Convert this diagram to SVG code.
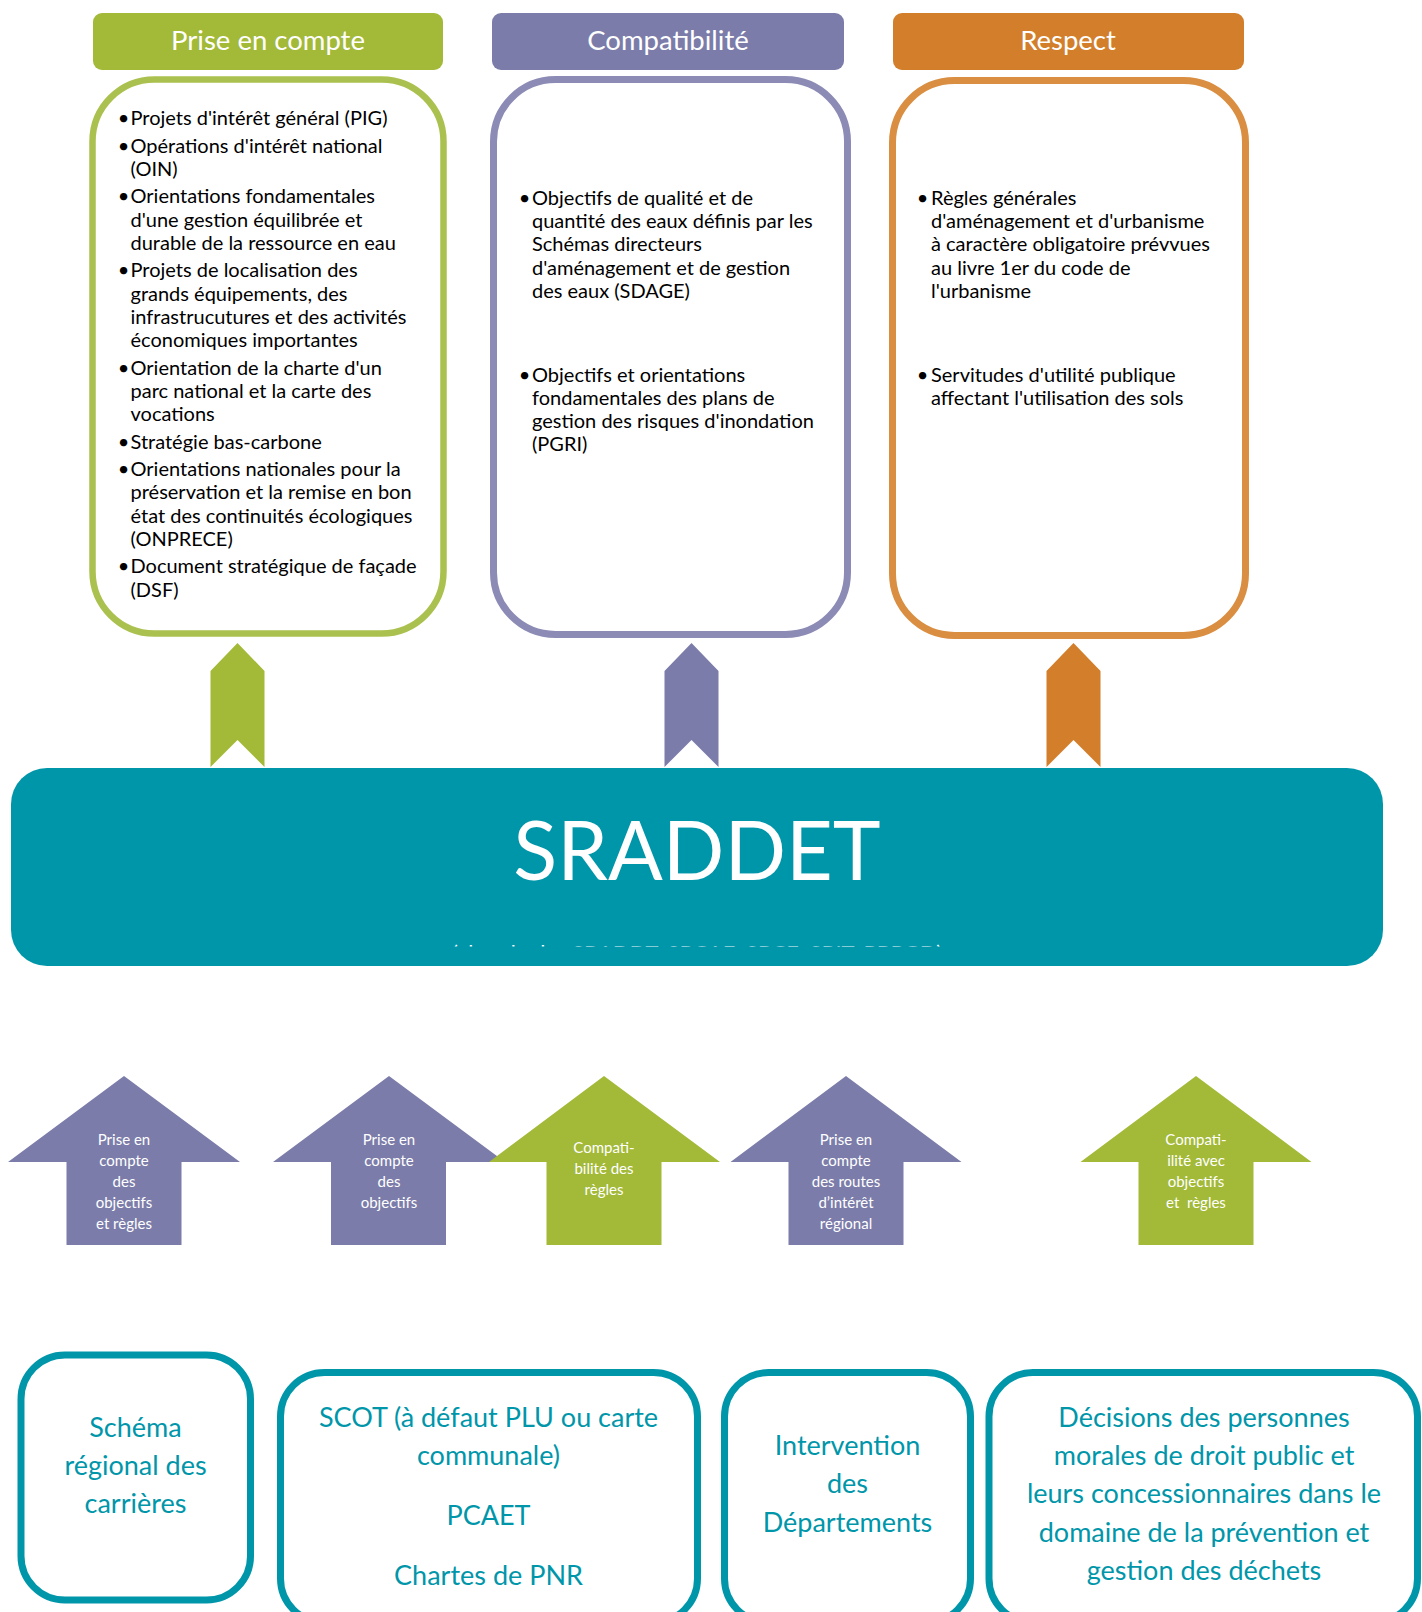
<svg xmlns="http://www.w3.org/2000/svg" width="1422" height="1612" viewBox="0 0 1422 1612">
  <defs>
    <style>
      text { font-family: Lato, "Liberation Sans", sans-serif; }
      .hdr { font-size: 27.5px; fill: #ffffff; text-anchor: middle; }
      .item { font-size: 20px; fill: #000000; }
      .bul { font-size: 20px; fill: #000000; text-anchor: middle; }
      .arw { font-size: 15px; fill: #ffffff; text-anchor: middle; }
      .low { font-size: 27px; fill: #0096aa; text-anchor: middle; }
      .lowbox { fill: #ffffff; stroke: #0096aa; stroke-width: 7; }
      .green { fill: #a3b938; }
      .purple { fill: #7b7ca9; }
      .orange { fill: #d27e2a; }
    </style>
    <clipPath id="subclip">
      <rect x="11" y="930" width="1372" height="16.6"/>
    </clipPath>
  </defs>

  <!-- column headers -->
  <g id="hdr-prise">
    <rect class="green" x="93" y="13" width="350" height="57" rx="9"/>
    <text class="hdr" x="268" y="50">Prise en compte</text>
  </g>
  <g id="hdr-compat">
    <rect class="purple" x="492" y="13" width="352" height="57" rx="9"/>
    <text class="hdr" x="668" y="50">Compatibilité</text>
  </g>
  <g id="hdr-respect">
    <rect class="orange" x="893" y="13" width="351" height="57" rx="9"/>
    <text class="hdr" x="1068" y="50">Respect</text>
  </g>

  <!-- column content boxes -->
  <g id="box-prise">
    <rect x="92.5" y="79.5" width="351" height="554" rx="62" fill="#ffffff" stroke="#abc14f" stroke-width="6.5"/>
    <g class="bul">
      <text x="123.5" y="125">•</text>
      <text x="123.5" y="152.6">•</text>
      <text x="123.5" y="203.4">•</text>
      <text x="123.5" y="277.4">•</text>
      <text x="123.5" y="374.6">•</text>
      <text x="123.5" y="448.6">•</text>
      <text x="123.5" y="476.2">•</text>
      <text x="123.5" y="573.4">•</text>
    </g>
    <g class="item">
      <text x="130.5" y="125">Projets d'intérêt général (PIG)</text>
      <text x="130.5" y="152.6">Opérations d'intérêt national</text>
      <text x="130.5" y="175.8">(OIN)</text>
      <text x="130.5" y="203.4">Orientations fondamentales</text>
      <text x="130.5" y="226.6">d'une gestion équilibrée et</text>
      <text x="130.5" y="249.8">durable de la ressource en eau</text>
      <text x="130.5" y="277.4">Projets de localisation des</text>
      <text x="130.5" y="300.6">grands équipements, des</text>
      <text x="130.5" y="323.8">infrastrucutures et des activités</text>
      <text x="130.5" y="347">économiques importantes</text>
      <text x="130.5" y="374.6">Orientation de la charte d'un</text>
      <text x="130.5" y="397.8">parc national et la carte des</text>
      <text x="130.5" y="421">vocations</text>
      <text x="130.5" y="448.6">Stratégie bas-carbone</text>
      <text x="130.5" y="476.2">Orientations nationales pour la</text>
      <text x="130.5" y="499.4">préservation et la remise en bon</text>
      <text x="130.5" y="522.6">état des continuités écologiques</text>
      <text x="130.5" y="545.8">(ONPRECE)</text>
      <text x="130.5" y="573.4">Document stratégique de façade</text>
      <text x="130.5" y="596.6">(DSF)</text>
    </g>
  </g>

  <g id="box-compat">
    <rect x="493.5" y="79.5" width="354" height="555" rx="62" fill="#ffffff" stroke="#8c8bb5" stroke-width="7"/>
    <g class="bul">
      <text x="524.5" y="205">•</text>
      <text x="524.5" y="381.7">•</text>
    </g>
    <g class="item">
      <text x="532" y="205">Objectifs de qualité et de</text>
      <text x="532" y="228.2">quantité des eaux définis par les</text>
      <text x="532" y="251.4">Schémas directeurs</text>
      <text x="532" y="274.6">d'aménagement et de gestion</text>
      <text x="532" y="297.8">des eaux (SDAGE)</text>
      <text x="532" y="381.7">Objectifs et orientations</text>
      <text x="532" y="404.9">fondamentales des plans de</text>
      <text x="532" y="428.1">gestion des risques d'inondation</text>
      <text x="532" y="451.3">(PGRI)</text>
    </g>
  </g>

  <g id="box-respect">
    <rect x="892.5" y="80.5" width="353" height="555" rx="62" fill="#ffffff" stroke="#d98e42" stroke-width="7"/>
    <g class="bul">
      <text x="922.5" y="205">•</text>
      <text x="922.5" y="381.7">•</text>
    </g>
    <g class="item">
      <text x="931" y="205">Règles générales</text>
      <text x="931" y="228.2">d'aménagement et d'urbanisme</text>
      <text x="931" y="251.4">à caractère obligatoire prévvues</text>
      <text x="931" y="274.6">au livre 1er du code de</text>
      <text x="931" y="297.8">l'urbanisme</text>
      <text x="931" y="381.7">Servitudes d'utilité publique</text>
      <text x="931" y="404.9">affectant l'utilisation des sols</text>
    </g>
  </g>

  <!-- central scheme -->
  <g id="sraddet">
    <rect x="11" y="768" width="1372" height="198" rx="36" fill="#0096aa"/>
    <text x="697" y="880" font-size="81" fill="#ffffff" text-anchor="middle">SRADDET</text>
    <text x="697" y="961" font-size="22" fill="#ffffff" text-anchor="middle" clip-path="url(#subclip)">(absorbe les SRADDT, SRCAE, SRCE, SRIT, PRPGD)</text>
  </g>

  <!-- connectors: upward chevrons and block arrows -->
  <g id="connectors">
    <polygon class="green" points="237.5,643 264.5,671 264.5,767 237.5,740 210.5,767 210.5,671"/>
    <polygon class="purple" points="691.5,643 718.5,671 718.5,767 691.5,740 664.5,767 664.5,671"/>
    <polygon class="orange" points="1073.5,643 1100.5,671 1100.5,767 1073.5,740 1046.5,767 1046.5,671"/>

    <g id="arrow-1">
      <polygon class="purple" points="124,1076 240,1162 181.5,1162 181.5,1245 66.5,1245 66.5,1162 8,1162"/>
      <g class="arw">
        <text x="124" y="1145">Prise en</text>
        <text x="124" y="1166">compte</text>
        <text x="124" y="1187">des</text>
        <text x="124" y="1208">objectifs</text>
        <text x="124" y="1229">et règles</text>
      </g>
    </g>
    <g id="arrow-2">
      <polygon class="purple" points="389,1076 505,1162 446,1162 446,1245 331,1245 331,1162 273,1162"/>
      <g class="arw">
        <text x="389" y="1145">Prise en</text>
        <text x="389" y="1166">compte</text>
        <text x="389" y="1187">des</text>
        <text x="389" y="1208">objectifs</text>
      </g>
    </g>
    <g id="arrow-3">
      <polygon class="green" points="604,1076 720,1162 661.5,1162 661.5,1245 546.5,1245 546.5,1162 489,1162"/>
      <g class="arw">
        <text x="604" y="1153">Compati-</text>
        <text x="604" y="1174">bilité des</text>
        <text x="604" y="1195">règles</text>
      </g>
    </g>
    <g id="arrow-4">
      <polygon class="purple" points="846,1076 961.5,1162 903.5,1162 903.5,1245 788.5,1245 788.5,1162 730.5,1162"/>
      <g class="arw">
        <text x="846" y="1145">Prise en</text>
        <text x="846" y="1166">compte</text>
        <text x="846" y="1187">des routes</text>
        <text x="846" y="1208">d’intérêt</text>
        <text x="846" y="1229">régional</text>
      </g>
    </g>
    <g id="arrow-5">
      <polygon class="green" points="1196,1076 1311.5,1162 1253.5,1162 1253.5,1245 1138.5,1245 1138.5,1162 1080.5,1162"/>
      <g class="arw">
        <text x="1196" y="1145">Compati-</text>
        <text x="1196" y="1166">ilité avec</text>
        <text x="1196" y="1187">objectifs</text>
        <text x="1196" y="1208" xml:space="preserve">et  règles</text>
      </g>
    </g>
  </g>

  <!-- documents bound by the scheme -->
  <g id="doc-carrieres">
    <rect class="lowbox" x="21" y="1355" width="229.5" height="245" rx="44"/>
    <g class="low">
      <text x="135.5" y="1437">Schéma</text>
      <text x="135.5" y="1475">régional des</text>
      <text x="135.5" y="1513">carrières</text>
    </g>
  </g>
  <g id="doc-scot">
    <rect class="lowbox" x="280.5" y="1372.5" width="417" height="250" rx="44"/>
    <g class="low">
      <text x="488.5" y="1427">SCOT (à défaut PLU ou carte</text>
      <text x="488.5" y="1465">communale)</text>
      <text x="488.5" y="1525">PCAET</text>
      <text x="488.5" y="1585">Chartes de PNR</text>
    </g>
  </g>
  <g id="doc-departements">
    <rect class="lowbox" x="724.5" y="1372.5" width="246" height="250" rx="44"/>
    <g class="low">
      <text x="847.5" y="1455">Intervention</text>
      <text x="847.5" y="1493">des</text>
      <text x="847.5" y="1532">Départements</text>
    </g>
  </g>
  <g id="doc-dechets">
    <rect class="lowbox" x="989" y="1372.5" width="428.5" height="250" rx="44"/>
    <g class="low">
      <text x="1204" y="1427">Décisions des personnes</text>
      <text x="1204" y="1465">morales de droit public et</text>
      <text x="1204" y="1503">leurs concessionnaires dans le</text>
      <text x="1204" y="1542">domaine de la prévention et</text>
      <text x="1204" y="1580">gestion des déchets</text>
    </g>
  </g>
</svg>
